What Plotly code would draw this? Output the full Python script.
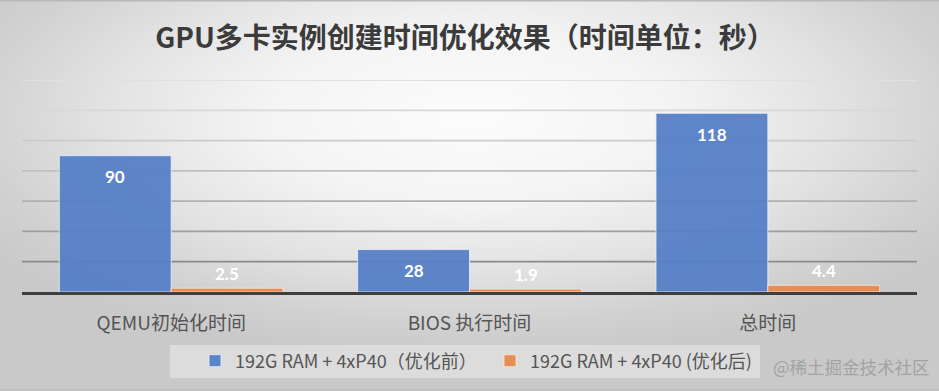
import base64
import plotly.graph_objects as go

# ---- data ----
categories = ["QEMU初始化时间", "BIOS 执行时间", "总时间"]
before_values = [90, 28, 118]
after_values = [2.5, 1.9, 4.4]
series_names = ["192G RAM + 4xP40（优化前）", "192G RAM + 4xP40 (优化后)"]
y_ticks = [20, 40, 60, 80, 100, 120, 140]
grid_colors = ["#8a8a8a", "#9e9e9e", "#b0b0b0", "#bfbfbf", "#cccccc", "#d8d8d8", "#e0e0e0"]
title_text = "GPU多卡实例创建时间优化效果（时间单位：秒）"
watermark = "@稀土掘金技术社区"

W, H = 939, 391
ML, MR, MT, MB = 22, 22, 80, 99
PW, PH = W - ML - MR, H - MT - MB

BLUE = "#5680C7"
ORANGE = "#E8894F"

svg = f'''<svg xmlns="http://www.w3.org/2000/svg" width="{W}" height="{H}" viewBox="0 0 {W} {H}" preserveAspectRatio="none">
<defs><radialGradient id="g" cx="0.5" cy="0.3" r="0.62">
<stop offset="0" stop-color="#fcfcfc"/>
<stop offset="0.35" stop-color="#f4f4f4"/>
<stop offset="0.62" stop-color="#e3e3e3"/>
<stop offset="0.85" stop-color="#d1d1d1"/>
<stop offset="1" stop-color="#c9c9c9"/>
</radialGradient></defs>
<rect x="0" y="0" width="{W}" height="{H}" fill="url(#g)"/>
</svg>'''
bg_src = "data:image/svg+xml;base64," + base64.b64encode(svg.encode()).decode()

def px_x(px):
    return (px - ML) / PW

def px_y(py):
    return (H - MB - py) / PH

fig = go.Figure()
fig.add_trace(go.Bar(
    x=categories, y=before_values, name=series_names[0],
    marker=dict(color=BLUE, line=dict(color="rgba(235,242,255,0.8)", width=1)),
    opacity=0.95, hoverinfo="x+y",
))
fig.add_trace(go.Bar(
    x=categories, y=after_values, name=series_names[1],
    marker=dict(color=ORANGE, line=dict(color="rgba(255,235,220,0.8)", width=1)),
    opacity=0.95, hoverinfo="x+y",
))

annotations = []
for c, v in zip(categories, before_values):
    annotations.append(dict(
        x=c, y=v, xref="x", yref="y", xshift=-56, yshift=-21,
        text=f"<b>{v}</b>", showarrow=False, yanchor="middle",
        font=dict(family="Lato, Noto Sans, sans-serif", size=17, color="white"),
    ))
for c, v in zip(categories, after_values):
    annotations.append(dict(
        x=c, y=v, xref="x", yref="y", xshift=56, yshift=15,
        text=f"<b>{v}</b>", showarrow=False, yanchor="middle",
        font=dict(family="Lato, Noto Sans, sans-serif", size=17, color="white"),
    ))
annotations.append(dict(
    x=px_x(851), y=px_y(366), xref="paper", yref="paper",
    text=watermark, showarrow=False, xanchor="center", yanchor="middle",
    font=dict(family="Noto Sans CJK SC", size=17.5, color="#a3a3a3"),
))

shapes = []
for v, col in zip(y_ticks, grid_colors):
    shapes.append(dict(type="line", xref="paper", yref="y", x0=0, x1=1, y0=v, y1=v,
                       line=dict(color=col, width=1.8), layer="below"))
# legend panel
shapes.append(dict(type="rect", xref="paper", yref="paper",
                   x0=px_x(170), x1=px_x(760), y0=px_y(378), y1=px_y(345),
                   fillcolor="rgba(255,255,255,0.35)", line=dict(width=0), layer="below"))
# frame lines at top/bottom of the picture
shapes.append(dict(type="line", xref="paper", yref="paper", x0=px_x(0), x1=px_x(W),
                   y0=px_y(0.7), y1=px_y(0.7), line=dict(color="#b8b8b8", width=1.5), layer="below"))
shapes.append(dict(type="line", xref="paper", yref="paper", x0=px_x(0), x1=px_x(W),
                   y0=px_y(389.5), y1=px_y(389.5), line=dict(color="#bdbdbd", width=1.5), layer="below"))

fig.update_layout(
    width=W, height=H,
    margin=dict(l=ML, r=MR, t=MT, b=MB, pad=0),
    paper_bgcolor="#e6e6e6",
    plot_bgcolor="rgba(0,0,0,0)",
    images=[dict(source=bg_src, xref="paper", yref="paper",
                 x=px_x(0), y=px_y(0), sizex=W / PW, sizey=H / PH,
                 xanchor="left", yanchor="top", sizing="stretch", layer="below")],
    title=dict(text=f"<b>{title_text}</b>", x=465 / W, y=1 - 38 / H,
               xanchor="center", yanchor="middle",
               font=dict(family="Noto Sans CJK SC", size=28, color="#3b3b3b")),
    barmode="group", bargap=0.25, bargroupgap=0,
    xaxis=dict(showgrid=False, showline=True, linecolor="#3f3f3f", linewidth=2.5,
               ticks="outside", ticklen=12, tickcolor="rgba(0,0,0,0)", automargin=False,
               tickfont=dict(family="Noto Sans CJK SC", size=19, color="#555555")),
    yaxis=dict(range=[0, 140], showgrid=False, zeroline=False, showticklabels=False,
               tickvals=y_ticks, automargin=False),
    showlegend=True,
    legend=dict(orientation="h", x=px_x(195), xanchor="left", y=px_y(361), yanchor="middle",
                bgcolor="rgba(0,0,0,0)", entrywidth=250, entrywidthmode="pixels",
                font=dict(family="Noto Sans CJK SC", size=18, color="#555555"),
                traceorder="normal"),
    annotations=annotations,
    shapes=shapes,
)

fig.write_html("out.html", config={"displayModeBar": False},
               post_script="document.body.style.margin='0';")
